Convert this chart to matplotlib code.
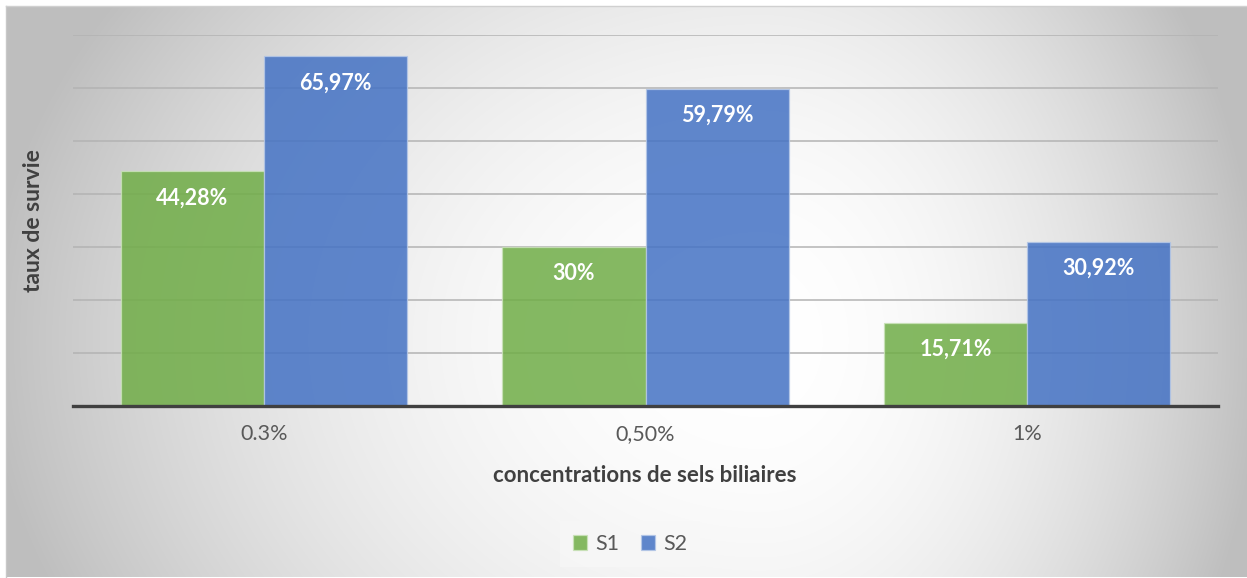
import numpy as np
import matplotlib
matplotlib.use("Agg")
import matplotlib.pyplot as plt

# ---- data ----
categories = ["0.3%", "0,50%", "1%"]
series_names = ["S1", "S2"]
s1_values = [44.28, 30.00, 15.71]
s2_values = [65.97, 59.79, 30.92]
s1_labels = ["44,28%", "30%", "15,71%"]
s2_labels = ["65,97%", "59,79%", "30,92%"]

W, H = 1247, 578
fig = plt.figure(figsize=(W / 100, H / 100), dpi=100)
fig.patch.set_facecolor("white")

# ---- chart area background: radial grey-to-white gradient ----
bg_left, bg_top, bg_right, bg_bottom = 6, 6, W, 577
bg = fig.add_axes([bg_left / W, 1 - bg_bottom / H,
                   (bg_right - bg_left) / W, (bg_bottom - bg_top) / H], zorder=0)
xs = np.arange(bg_left, bg_right)
ys = np.arange(bg_top, bg_bottom)
X, Y = np.meshgrid(xs, ys)
cx, cy = 760.0, 340.0
ax_x = np.where(X < cx, cx - bg_left, bg_right - cx)
dx = (X - cx) / ax_x
dy = (Y - cy) / 600.0
d2 = dx ** 2 + dy ** 2
g = 1.0 - 0.24 * np.clip(d2, 0, 1.05)
g = np.clip(g, 0.74, 1.0)
img = np.dstack([g, g, g])
bg.imshow(img, aspect="auto", extent=(0, 1, 0, 1), interpolation="bilinear")
bg.set_axis_off()
# faint frame line on left and top
fig.add_artist(plt.Line2D([bg_left / W, bg_left / W], [1 - bg_bottom / H, 1 - bg_top / H],
                          color="#c8c8c8", lw=1.0, transform=fig.transFigure))
fig.add_artist(plt.Line2D([bg_left / W, 1], [1 - bg_top / H, 1 - bg_top / H],
                          color="#d0d0d0", lw=1.0, transform=fig.transFigure))

# ---- main plot ----
pl, pr, pt, pb = 73, 1218, 35, 406
ax = fig.add_axes([pl / W, 1 - pb / H, (pr - pl) / W, (pb - pt) / H], zorder=1)
ax.patch.set_alpha(0)

font = "Lato"
x = np.arange(len(categories))
bw = 0.375
green = "#70AD47"
blue = "#4472C4"

for y in range(10, 71, 10):
    ax.axhline(y, color="#b3b3b3", lw=1.1, zorder=1)

b1 = ax.bar(x - bw / 2, s1_values, bw, color=green, alpha=0.85,
            edgecolor="#c9e2b8", linewidth=0.9, zorder=2, label=series_names[0])
b2 = ax.bar(x + bw / 2, s2_values, bw, color=blue, alpha=0.85,
            edgecolor="#b4c7e7", linewidth=0.9, zorder=2, label=series_names[1])

for bars, labels in ((b1, s1_labels), (b2, s2_labels)):
    for rect, lab in zip(bars, labels):
        ax.annotate(lab, (rect.get_x() + rect.get_width() / 2, rect.get_height()),
                    xytext=(0, -19), textcoords="offset points",
                    ha="center", va="center", color="white",
                    fontsize=15.5, fontweight="bold", family=font, zorder=3)

ax.axhline(0, color="#404040", lw=2.4, zorder=4, clip_on=False)

ax.set_xlim(-0.5, len(categories) - 0.5)
ax.set_ylim(0, 70)
ax.set_yticks([])
ax.set_xticks(x)
ax.set_xticklabels(categories, family=font, fontsize=15.5, color="#595959")
ax.tick_params(axis="x", length=0, pad=13)
for s in ax.spines.values():
    s.set_visible(False)

fig.text(645 / W, 1 - 475 / H, "concentrations de sels biliaires",
         ha="center", va="center", fontsize=16, fontweight="bold",
         color="#404040", family=font)
fig.text(33 / W, 1 - 221 / H, "taux de survie", rotation=90,
         ha="center", va="center", fontsize=16.5, fontweight="bold",
         color="#404040", family=font)

leg = fig.legend(handles=[b1, b2], labels=series_names, loc="center",
                 bbox_to_anchor=(630 / W, 1 - 544 / H), ncol=2,
                 frameon=True, fancybox=False, handlelength=0.65, handleheight=0.65,
                 handletextpad=0.4, columnspacing=1.0, borderpad=0.6,
                 prop={"family": font, "size": 15.5})
leg.get_frame().set_facecolor("#f7f7f7")
leg.get_frame().set_edgecolor("none")
leg.get_frame().set_alpha(0.8)
for t in leg.get_texts():
    t.set_color("#595959")

fig.savefig("out.png", dpi=100)
